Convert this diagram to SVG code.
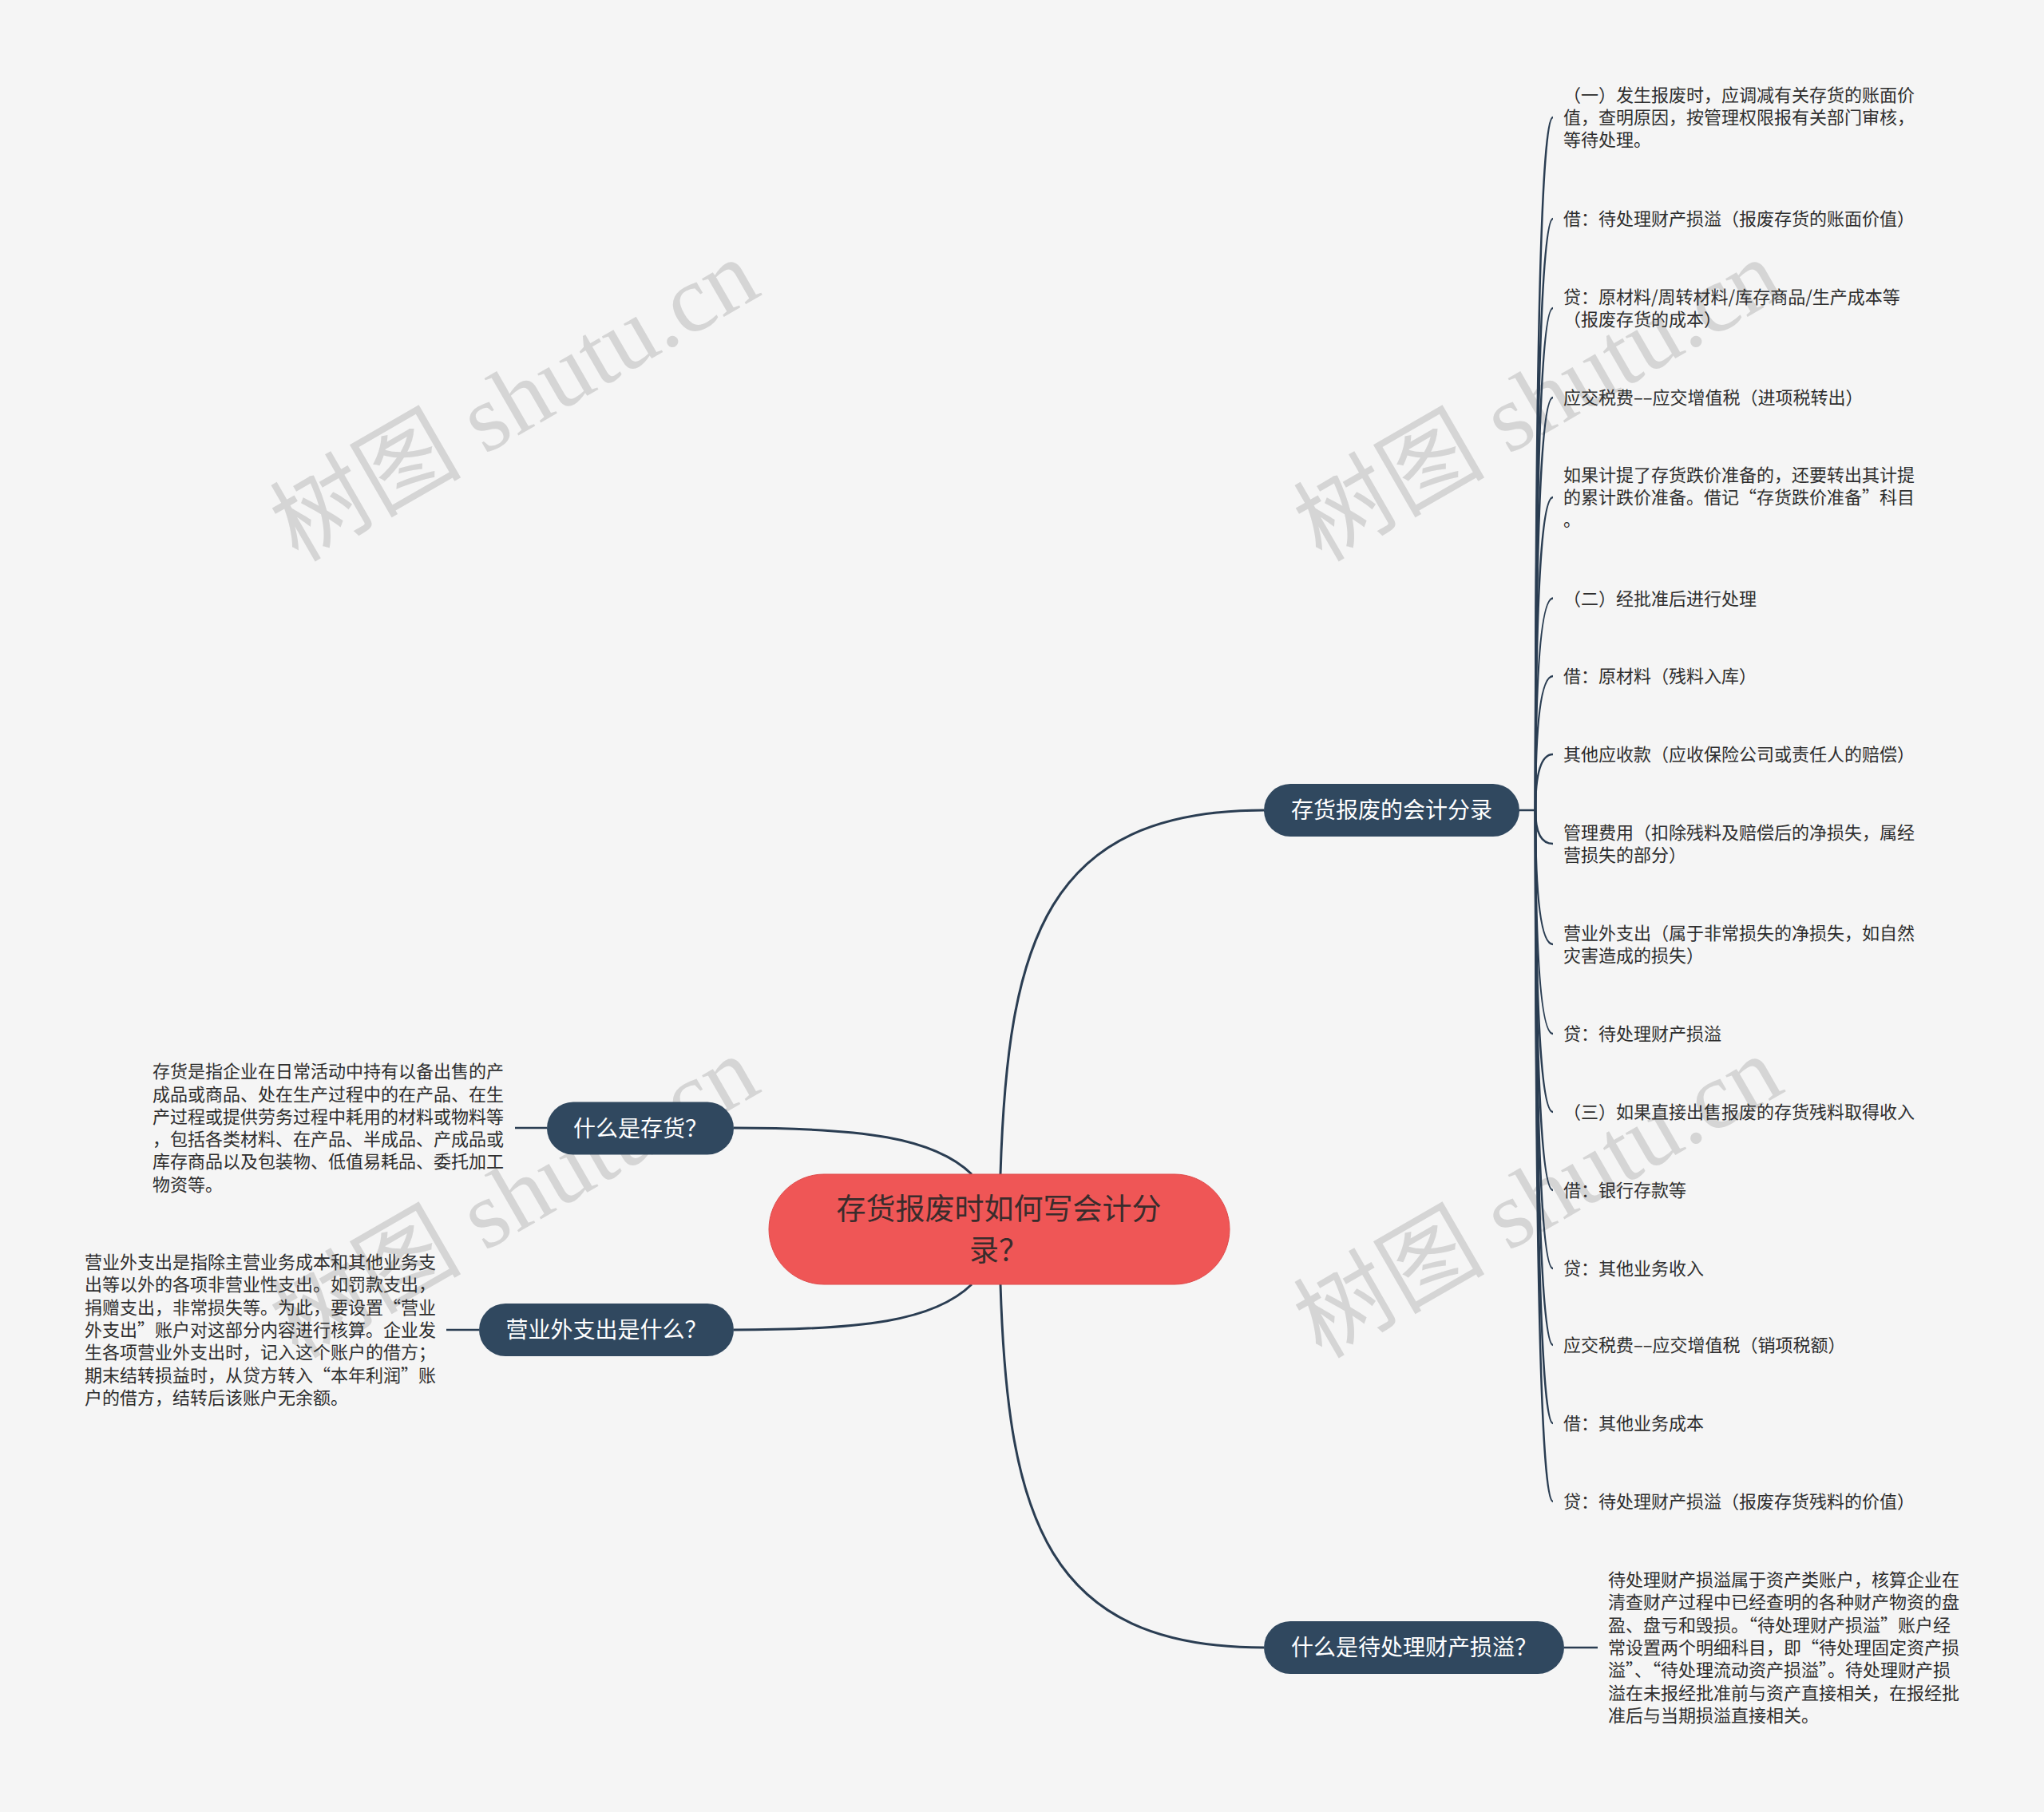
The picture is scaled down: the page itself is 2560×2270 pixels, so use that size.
<svg xmlns="http://www.w3.org/2000/svg" width="2560" height="2270" viewBox="0 0 2560 2270">
<style>
.wm{font-family:"Liberation Serif","Noto Sans CJK SC",serif;font-size:120px;fill:#d5d5d5}
.leaf{font-family:"Noto Sans CJK SC","Noto Sans CJK JP",sans-serif;font-size:22px;fill:#2e2e2e}
.main{font-family:"Noto Sans CJK SC","Noto Sans CJK JP",sans-serif;font-size:28px;fill:#ffffff;text-anchor:middle}
.root{font-family:"Noto Sans CJK SC","Noto Sans CJK JP",sans-serif;font-size:37px;fill:#3a2c2c;text-anchor:middle}
.pill{fill:#30485f}
.c1{fill:none;stroke:#2a3d52;stroke-width:3}
.c2{fill:none;stroke:#2a3d52;stroke-width:2.5}
</style>
<rect x="0" y="0" width="2560" height="2270" fill="#f5f5f5"/>
<g id="watermarks">
<text class="wm" transform="translate(373,705) rotate(-30)">树图 shutu.cn</text>
<text class="wm" transform="translate(1655,705) rotate(-30)">树图 shutu.cn</text>
<text class="wm" transform="translate(373,1703) rotate(-30)">树图 shutu.cn</text>
<text class="wm" transform="translate(1655,1703) rotate(-30)">树图 shutu.cn</text>
</g>
<g id="connectors">
<path class="c1" d="M1253,1471 C1262,1180 1310,1015 1583,1015"/>
<path class="c1" d="M1253,1609 C1262,1900 1310,2064 1583,2064"/>
<path class="c1" d="M1217,1471 C1170,1425 1080,1413 919,1413"/>
<path class="c1" d="M1217,1609 C1170,1655 1080,1666 919,1666"/>
<path class="c2" d="M1903,1015 L1923,1015"/>
<path class="c2" d="M1923,1015 Q1923,147 1945,147"/>
<path class="c2" d="M1923,1015 Q1923,274 1945,274"/>
<path class="c2" d="M1923,1015 Q1923,386 1945,386"/>
<path class="c2" d="M1923,1015 Q1923,498 1945,498"/>
<path class="c2" d="M1923,1015 Q1923,623 1945,623"/>
<path class="c2" d="M1923,1015 Q1923,749.5 1945,749.5"/>
<path class="c2" d="M1923,1015 Q1923,847 1945,847"/>
<path class="c2" d="M1923,1015 Q1923,945 1945,945"/>
<path class="c2" d="M1923,1015 Q1923,1057 1945,1057"/>
<path class="c2" d="M1923,1015 Q1923,1183 1945,1183"/>
<path class="c2" d="M1923,1015 Q1923,1295 1945,1295"/>
<path class="c2" d="M1923,1015 Q1923,1393 1945,1393"/>
<path class="c2" d="M1923,1015 Q1923,1491 1945,1491"/>
<path class="c2" d="M1923,1015 Q1923,1589 1945,1589"/>
<path class="c2" d="M1923,1015 Q1923,1685 1945,1685"/>
<path class="c2" d="M1923,1015 Q1923,1783 1945,1783"/>
<path class="c2" d="M1923,1015 Q1923,1881 1945,1881"/>
<path class="c2" d="M685,1413 L645,1413"/>
<path class="c2" d="M600,1666 L559,1666"/>
<path class="c2" d="M1959,2064 L2001,2064"/>
</g>
<g id="root">
<rect x="963" y="1471" width="577" height="138" rx="69" fill="#ef5656" stroke="#de4a4a" stroke-width="1"/>
<text class="root" x="1251"><tspan x="1251" y="1528">存货报废时如何写会计分</tspan><tspan x="1251" y="1580">录？</tspan></text>
</g>
<g id="node-kuaiji">
<rect class="pill" x="1583" y="982" width="320" height="66" rx="33"/>
<text class="main" x="1743" y="1025">存货报废的会计分录</text>
</g>
<g id="node-cunhuo">
<rect class="pill" x="685" y="1380.5" width="234" height="66" rx="33"/>
<text class="main" x="802" y="1424">什么是存货？</text>
</g>
<g id="node-yingyewai">
<rect class="pill" x="600" y="1633" width="319" height="66" rx="33"/>
<text class="main" x="759.5" y="1676">营业外支出是什么？</text>
</g>
<g id="node-sunyi">
<rect class="pill" x="1583" y="2031" width="376" height="66" rx="33"/>
<text class="main" x="1771" y="2074">什么是待处理财产损溢？</text>
</g>
<g id="leaf-1"><text class="leaf"><tspan x="1958" y="127">（一）发生报废时，应调减有关存货的账面价</tspan><tspan x="1958" y="155">值，查明原因，按管理权限报有关部门审核，</tspan><tspan x="1958" y="183">等待处理。</tspan></text></g>
<g id="leaf-2"><text class="leaf" x="1958" y="282">借：待处理财产损溢（报废存货的账面价值）</text></g>
<g id="leaf-3"><text class="leaf"><tspan x="1958" y="380">贷：原材料/周转材料/库存商品/生产成本等</tspan><tspan x="1958" y="408">（报废存货的成本）</tspan></text></g>
<g id="leaf-4"><text class="leaf" x="1958" y="506">应交税费––应交增值税（进项税转出）</text></g>
<g id="leaf-5"><text class="leaf"><tspan x="1958" y="603">如果计提了存货跌价准备的，还要转出其计提</tspan><tspan x="1958" y="631">的累计跌价准备。借记“存货跌价准备”科目</tspan><tspan x="1958" y="659">。</tspan></text></g>
<g id="leaf-6"><text class="leaf" x="1958" y="757.5">（二）经批准后进行处理</text></g>
<g id="leaf-7"><text class="leaf" x="1958" y="855">借：原材料（残料入库）</text></g>
<g id="leaf-8"><text class="leaf" x="1958" y="953">其他应收款（应收保险公司或责任人的赔偿）</text></g>
<g id="leaf-9"><text class="leaf"><tspan x="1958" y="1051">管理费用（扣除残料及赔偿后的净损失，属经</tspan><tspan x="1958" y="1079">营损失的部分）</tspan></text></g>
<g id="leaf-10"><text class="leaf"><tspan x="1958" y="1177">营业外支出（属于非常损失的净损失，如自然</tspan><tspan x="1958" y="1205">灾害造成的损失）</tspan></text></g>
<g id="leaf-11"><text class="leaf" x="1958" y="1303">贷：待处理财产损溢</text></g>
<g id="leaf-12"><text class="leaf" x="1958" y="1401">（三）如果直接出售报废的存货残料取得收入</text></g>
<g id="leaf-13"><text class="leaf" x="1958" y="1499">借：银行存款等</text></g>
<g id="leaf-14"><text class="leaf" x="1958" y="1597">贷：其他业务收入</text></g>
<g id="leaf-15"><text class="leaf" x="1958" y="1693">应交税费––应交增值税（销项税额）</text></g>
<g id="leaf-16"><text class="leaf" x="1958" y="1791">借：其他业务成本</text></g>
<g id="leaf-17"><text class="leaf" x="1958" y="1889">贷：待处理财产损溢（报废存货残料的价值）</text></g>
<g id="leaf-cunhuo"><text class="leaf"><tspan x="191" y="1350">存货是指企业在日常活动中持有以备出售的产</tspan><tspan x="191" y="1379">成品或商品、处在生产过程中的在产品、在生</tspan><tspan x="191" y="1407">产过程或提供劳务过程中耗用的材料或物料等</tspan><tspan x="191" y="1435">，包括各类材料、在产品、半成品、产成品或</tspan><tspan x="191" y="1463">库存商品以及包装物、低值易耗品、委托加工</tspan><tspan x="191" y="1492">物资等。</tspan></text></g>
<g id="leaf-yingyewai"><text class="leaf"><tspan x="106" y="1589">营业外支出是指除主营业务成本和其他业务支</tspan><tspan x="106" y="1617">出等以外的各项非营业性支出。如罚款支出，</tspan><tspan x="106" y="1646">捐赠支出，非常损失等。为此，要设置“营业</tspan><tspan x="106" y="1674">外支出”账户对这部分内容进行核算。企业发</tspan><tspan x="106" y="1702">生各项营业外支出时，记入这个账户的借方；</tspan><tspan x="106" y="1731">期末结转损益时，从贷方转入“本年利润”账</tspan><tspan x="106" y="1759">户的借方，结转后该账户无余额。</tspan></text></g>
<g id="leaf-sunyi"><text class="leaf"><tspan x="2014" y="1987">待处理财产损溢属于资产类账户，核算企业在</tspan><tspan x="2014" y="2015">清查财产过程中已经查明的各种财产物资的盘</tspan><tspan x="2014" y="2044">盈、盘亏和毁损。“待处理财产损溢”账户经</tspan><tspan x="2014" y="2072">常设置两个明细科目，即“待处理固定资产损</tspan><tspan x="2014" y="2100">溢”、“待处理流动资产损溢”。待处理财产损</tspan><tspan x="2014" y="2129">溢在未报经批准前与资产直接相关，在报经批</tspan><tspan x="2014" y="2157">准后与当期损溢直接相关。</tspan></text></g>
</svg>
